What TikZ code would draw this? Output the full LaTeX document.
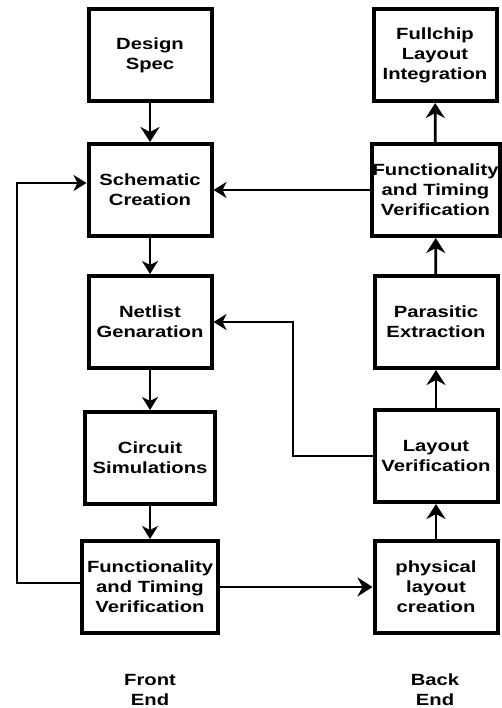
\documentclass[tikz,border=0pt]{standalone}
\usepackage{fontspec}
\setsansfont{Liberation Sans}[FakeStretch=1.25]
\usetikzlibrary{arrows.meta}
\begin{document}
\begin{tikzpicture}[x=1pt,y=-1pt]
		\tikzstyle{etape}=[draw,line width=4pt,minimum width=123pt,minimum height=92pt,inner sep=1pt,align=center,font=\sffamily\bfseries\fontsize{16.2}{20}\selectfont]
		\tikzstyle{titre}=[align=center,font=\sffamily\bfseries\fontsize{16.2}{20}\selectfont]
		\tikzstyle{fleche}=[line width=2.8pt,-{Stealth[length=15pt,width=19pt,inset=5pt]}]
		\tikzstyle{fleche_fine}=[line width=2pt,-{Stealth[length=13pt,width=16pt,inset=4pt]}]
		\useasboundingbox (0,0) rectangle (501,708);
		\node[etape] (des) at (150,55) {Design\\Spec}; % front end
		\node[etape] (sch) at (150,190) {Schematic\\Creation};
		\node[etape] (net) at (150,322) {Netlist\\Genaration};
		\node[etape,minimum width=130pt] (sim) at (150,458) {Circuit\\Simulations};
		\node[etape,minimum width=136pt] (fvl) at (150,587) {Functionality\\and Timing\\Verification};
		\node[etape] (full) at (435,55) {Fullchip\\Layout\\Integration}; % back end
		\node[etape,minimum width=127pt] (fvr) at (435.5,190) {Functionality\\and Timing\\Verification};
		\node[etape] (par) at (436,322) {Parasitic\\Extraction};
		\node[etape] (lv) at (436,456) {Layout\\Verification};
		\node[etape] (phy) at (436,587) {physical\\layout\\creation};
		\node[titre] (fe) at (150,690) {Front\\End};
		\node[titre] (be) at (435,690) {Back\\End};
		\coordinate (retour) at (17,0);
		\coordinate (coude) at (293,322);
		\draw[fleche] (des) -- (sch);
		\draw[fleche_fine] (sch) -- (net);
		\draw[fleche_fine] (net) -- (sim);
		\draw[fleche_fine] (sim) -- (fvl);
		\draw[fleche_fine] ([yshift=4pt]fvl.west) -- ([yshift=4pt]fvl.west -| retour) |- ([yshift=7pt]sch.west); % boucle
		\draw[fleche] (fvl.east) -- (phy.west);
		\draw[fleche] (phy) -- (lv);
		\draw[fleche] (lv) -- (par);
		\draw[fleche] (par) -- (fvr);
		\draw[fleche] (fvr) -- (full);
		\draw[fleche_fine] (fvr.west) -- (sch.east);
		\draw[fleche_fine] (lv.west) -| (coude) -- (net.east);
	\end{tikzpicture}
\end{document}
